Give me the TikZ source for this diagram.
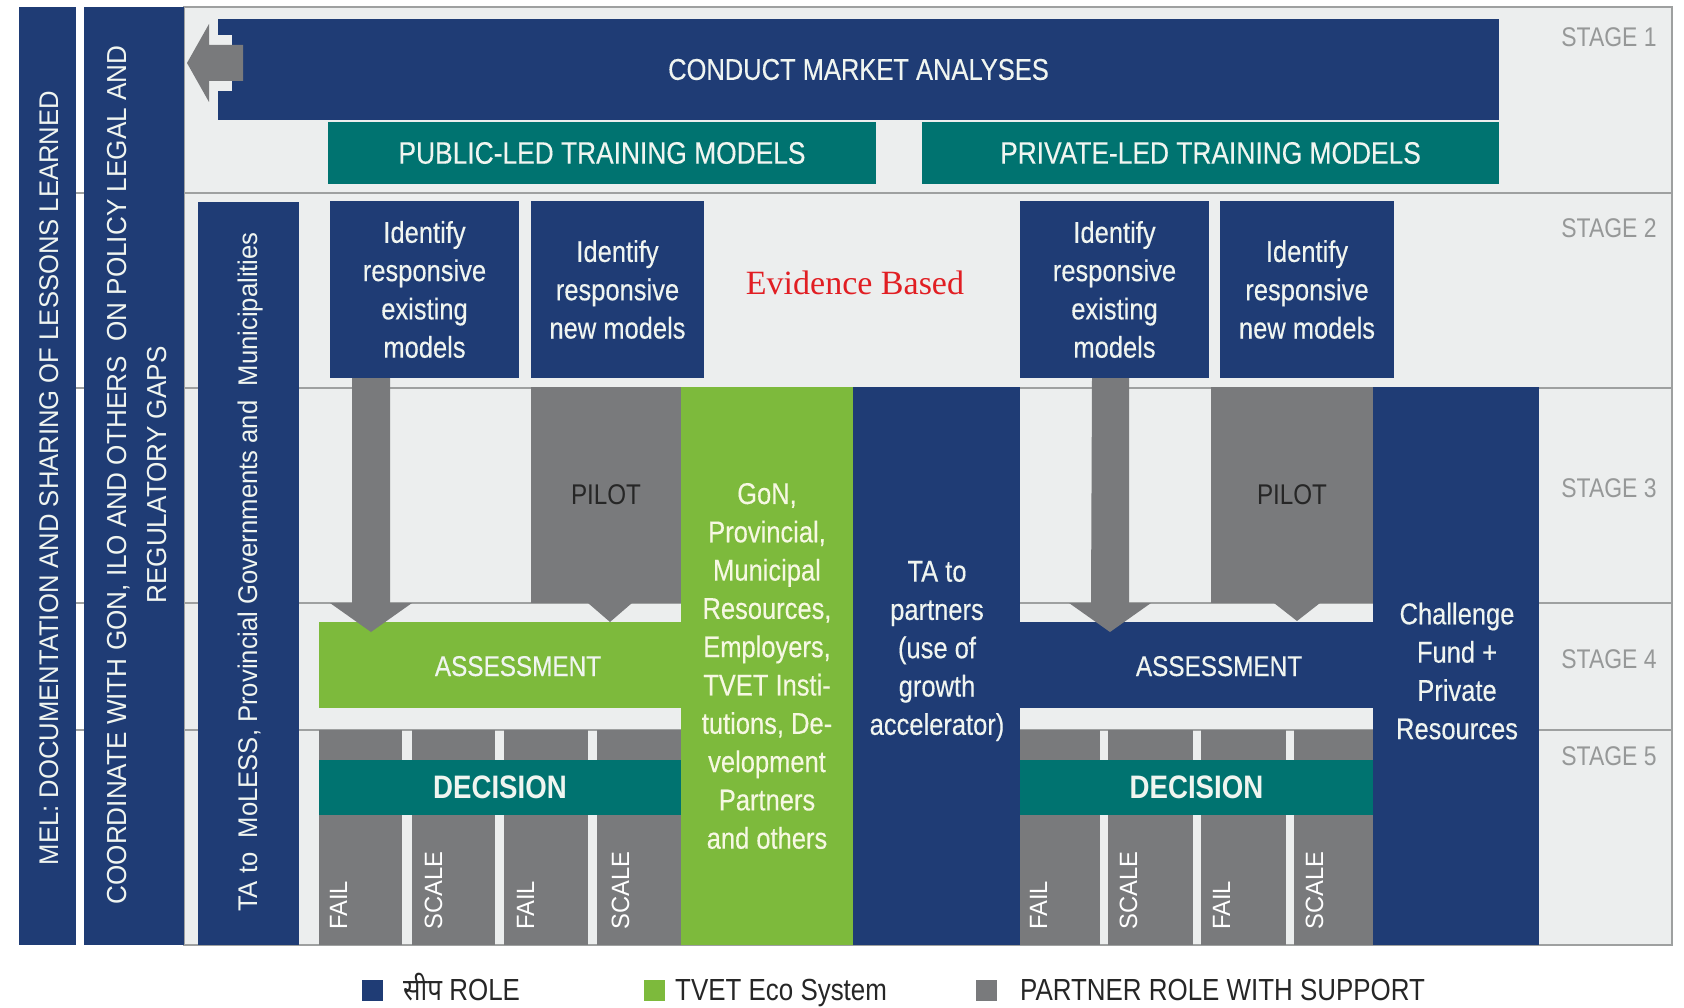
\documentclass[tikz,border=0pt]{standalone}
\usepackage{fontspec}
\setmainfont{Liberation Sans}
\newfontfamily\nf[FakeStretch=0.85]{Liberation Sans}
\newfontfamily\nfw[FakeStretch=0.85,FakeBold=0.3]{Liberation Sans}
\newfontfamily\vf[FakeStretch=0.95]{Liberation Sans}
\newfontfamily\evfont{Liberation Serif}
\newfontfamily\devafont[Script=Devanagari,FakeStretch=0.85]{Noto Sans}
\newcommand\fsz[2]{\fontsize{#1}{#2}\selectfont}

\definecolor{navy}{RGB}{31,60,117}
\definecolor{tealbk}{RGB}{0,115,112}
\definecolor{greenbk}{RGB}{125,186,60}
\definecolor{graybk}{RGB}{121,122,124}
\definecolor{panel}{RGB}{236,238,238}
\definecolor{rulegray}{RGB}{158,160,160}
\definecolor{stagetxt}{RGB}{150,152,152}
\definecolor{evred}{RGB}{225,30,35}
\definecolor{paletxt}{RGB}{240,245,240}
\definecolor{creamtxt}{RGB}{246,248,226}
\definecolor{darktxt}{RGB}{38,38,38}

% a filled box given by its corners: [options]{name}{x1}{y1}{x2}{y2}{text}
\newcommand\putbox[7][]{%
  \node[blk,#1,minimum width={(#5)-(#3)},minimum height={(#6)-(#4)}]
    (#2) at ({((#3)+(#5))/2},{((#4)+(#6))/2}) {#7};}

\begin{document}
\begin{tikzpicture}[x=1pt,y=-1pt,
  blk/.style={inner sep=0pt,outer sep=0pt,draw=none,align=center},
  body/.style={font=\nfw\fsz{30}{38.3},text=paletxt},
  capsbox/.style={font=\nfw\fsz{30}{34},text=paletxt},
  vtxt/.style={inner sep=0pt,rotate=90,font=\vf\fsz{27}{34},text=paletxt},
  collbl/.style={inner sep=0pt,rotate=90,font=\vf\fsz{25}{30},text=white},
  stagelbl/.style={inner sep=0pt,font=\nf\fsz{27}{30},text=stagetxt},
  lgtxt/.style={inner sep=0pt,font=\nf\fsz{30.5}{34},text=darktxt},
  stageline/.style={draw=rulegray,line width=1.3pt}]

\useasboundingbox (0,0) rectangle (1684,1008);
\fill[white] (0,0) rectangle (1684,1008);

% light stage panel and stage separators
\putbox[fill=panel,draw=rulegray,line width=1.3pt]{panel}{184}{7}{1672}{945}{}
\foreach \yy in {193,388,603,730}
  \draw[stageline] (19,\yy) -- (1672,\yy);

% stage labels
\node[stagelbl,anchor=base] (st1) at (1609,47) {STAGE 1};
\node[stagelbl,anchor=base] (st2) at (1609,238) {STAGE 2};
\node[stagelbl,anchor=base] (st3) at (1609,497) {STAGE 3};
\node[stagelbl,anchor=base] (st4) at (1609,668) {STAGE 4};
\node[stagelbl,anchor=base] (st5) at (1609,765) {STAGE 5};

% vertical bars on the left
\putbox[fill=navy]{mel}{19}{7}{76}{945}{}
\putbox[fill=navy]{coord}{84}{7}{184}{945}{}
\putbox[fill=navy]{tamo}{198}{202}{299}{945}{}
\node[vtxt,anchor=base] (meltxt) at (58,478)
  {MEL: DOCUMENTATION AND SHARING OF LESSONS LEARNED};
\node[vtxt,anchor=base,font=\vf\fsz{27.5}{34}] (coordtxta) at (126,475)
  {COORDINATE WITH GON, ILO AND OTHERS\ \ ON POLICY LEGAL AND};
\node[vtxt,anchor=base,font=\vf\fsz{27.5}{34}] (coordtxtb) at (166,475) {REGULATORY GAPS};
\node[vtxt,anchor=base] (tamotxt) at (257,572)
  {TA to\ \ MoLESS, Provincial Governments and\ \ Municipalities};

% stage 1
\putbox[fill=navy,capsbox]{cma}{218}{19}{1499}{120}{CONDUCT MARKET ANALYSES}
\putbox[fill=tealbk,capsbox,font=\nfw\fsz{31}{34}]{pub}{328}{122}{876}{184}{PUBLIC-LED TRAINING MODELS}
\putbox[fill=tealbk,capsbox,font=\nfw\fsz{31}{34}]{priv}{922}{122}{1499}{184}{PRIVATE-LED TRAINING MODELS}
% arrow leaving the market analyses bar
\fill[panel] (cma.west) ++(-9,-34.5) rectangle ++(23,56);
\fill[graybk] (cma.west) ++(25,-24.5) -- ++(-34,0) -- ++(0,-21) -- ++(-22,39)
  -- ++(22,39) -- ++(0,-21) -- ++(34,0) -- cycle;

% stage 2
\putbox[fill=navy,body]{exa}{330}{201}{519}{378}{Identify\\responsive\\existing\\models}
\putbox[fill=navy,body]{newa}{531}{201}{704}{378}{Identify\\responsive\\new models}
\putbox[fill=navy,body]{exb}{1020}{201}{1209}{378}{Identify\\responsive\\existing\\models}
\putbox[fill=navy,body]{newb}{1220}{201}{1394}{378}{Identify\\responsive\\new models}
\node[inner sep=0pt,anchor=base,font=\evfont\fsz{34}{40},text=evred] (ev) at (855,295)
  {Evidence Based};

% stages 3 to 5, public side
\putbox[fill=graybk]{fa1}{319}{730}{402}{945}{}
\putbox[fill=graybk]{sa1}{412}{730}{495}{945}{}
\putbox[fill=graybk]{fa2}{504}{730}{588}{945}{}
\putbox[fill=graybk]{sa2}{597}{730}{681}{945}{}
\putbox[fill=tealbk,font=\nf\bfseries\fsz{32.5}{36},text=paletxt]{deca}{319}{760}{681}{815}{DECISION}
\node[collbl,anchor=base west] (fa1t) at (347,930) {FAIL};
\node[collbl,anchor=base west] (sa1t) at (442,930) {SCALE};
\node[collbl,anchor=base west] (fa2t) at (534,930) {FAIL};
\node[collbl,anchor=base west] (sa2t) at (629,930) {SCALE};

\putbox[fill=greenbk]{assa}{319}{622}{681}{708}{}
\node[capsbox,inner sep=0pt,anchor=base,font=\nfw\fsz{28.6}{32}] (assat) at (518,676) {ASSESSMENT};
\putbox[fill=graybk,font=\nf\fsz{28.5}{32},text=darktxt]{pila}{531}{387}{681}{603}{PILOT}
\fill[graybk] ([xshift=-18pt]pila.south) -- ([xshift=26pt]pila.south)
  -- ([xshift=4pt,yshift=-19pt]pila.south) -- cycle;
\fill[graybk] (exa.south west) ++(22,0) -- ++(38,0) -- ++(0,225) -- ++(22,0)
  -- ++(-41,29) -- ++(-41,-29) -- ++(22,0) -- cycle;

% shared resource columns
\putbox[fill=greenbk,font=\nfw\fsz{30}{38.3},text=creamtxt]{eco}{681}{387}{853}{945}
  {GoN,\\Provincial,\\Municipal\\Resources,\\Employers,\\TVET Insti-\\tutions, De-\\velopment\\Partners\\and others}
\putbox[fill=navy]{tap}{853}{387}{1020}{945}{}
\node[body,inner sep=0pt,align=center] (taptxt) at (937,651)
  {TA to\\partners\\(use of\\growth\\accelerator)};

% stages 3 to 5, private side
\putbox[fill=graybk]{fb1}{1020}{730}{1100}{945}{}
\putbox[fill=graybk]{sb1}{1108}{730}{1193}{945}{}
\putbox[fill=graybk]{fb2}{1201}{730}{1286}{945}{}
\putbox[fill=graybk]{sb2}{1294}{730}{1373}{945}{}
\putbox[fill=tealbk,font=\nf\bfseries\fsz{32.5}{36},text=paletxt]{decb}{1020}{760}{1373}{815}{DECISION}
\node[collbl,anchor=base west] (fb1t) at (1047,930) {FAIL};
\node[collbl,anchor=base west] (sb1t) at (1137,930) {SCALE};
\node[collbl,anchor=base west] (fb2t) at (1230,930) {FAIL};
\node[collbl,anchor=base west] (sb2t) at (1323,930) {SCALE};

\putbox[fill=navy]{assb}{1020}{622}{1373}{708}{}
\node[capsbox,inner sep=0pt,anchor=base,font=\nfw\fsz{28.6}{32}] (assbt) at (1219,676) {ASSESSMENT};
\putbox[fill=graybk,font=\nf\fsz{28.5}{32},text=darktxt]{pilb}{1211}{387}{1373}{603}{PILOT}
\fill[graybk] ([xshift=-18pt]pilb.south) -- ([xshift=28pt]pilb.south)
  -- ([xshift=5pt,yshift=-18pt]pilb.south) -- cycle;
\fill[graybk] (exb.south west) ++(72,0) -- ++(37,0) -- ++(0,225) -- ++(22,0)
  -- ++(-41,29) -- ++(-41,-29) -- ++(22,0) -- cycle;

\putbox[fill=navy]{chal}{1373}{387}{1539}{945}{}
\node[body,inner sep=0pt,align=center] (chaltxt) at (1457,671)
  {Challenge\\Fund +\\Private\\Resources};

% legend
\putbox[fill=navy]{lgn}{362}{980}{383}{1001}{}
\node[lgtxt,anchor=base west] (lgntxt) at (403,1000) {{\devafont सीप} ROLE};
\putbox[fill=greenbk]{lgg}{644}{980}{665}{1001}{}
\node[lgtxt,anchor=base west] (lggtxt) at (675,1000) {TVET Eco System};
\putbox[fill=graybk]{lgp}{976}{980}{997}{1001}{}
\node[lgtxt,anchor=base west] (lgptxt) at (1020,1000) {PARTNER ROLE WITH SUPPORT};
\end{tikzpicture}
\end{document}
